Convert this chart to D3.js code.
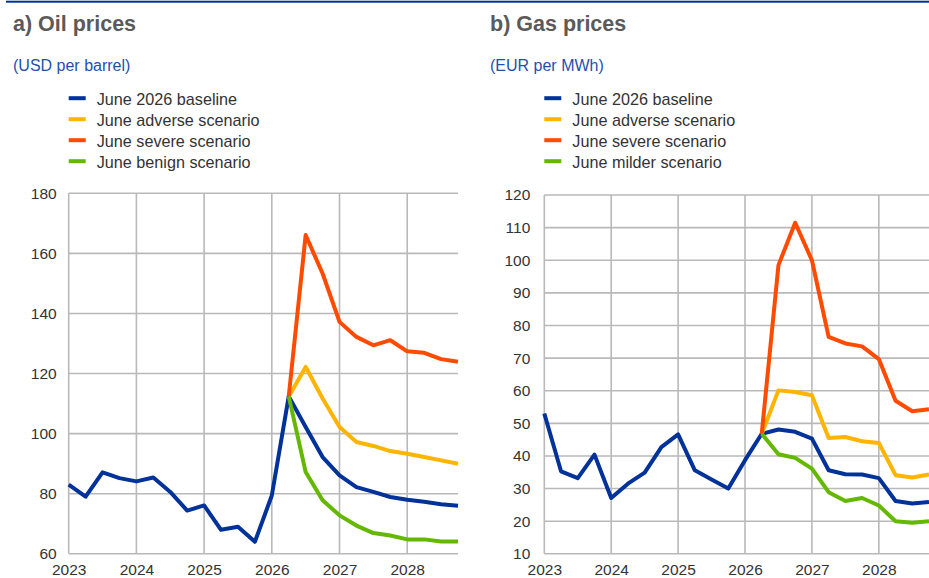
<!DOCTYPE html>
<html>
<head>
<meta charset="utf-8">
<script src="https://cdn.jsdelivr.net/npm/d3@7"></script>
<style>
  html, body { margin: 0; padding: 0; background: #fff; }
  svg { display: block; font-family: "Liberation Sans", Arial, sans-serif; }
</style>
</head>
<body>
<svg id="chart" width="929" height="578"></svg>
<script>
// ---------- DATA ----------
const quarters = ["2023Q1","2023Q2","2023Q3","2023Q4","2024Q1","2024Q2","2024Q3","2024Q4",
  "2025Q1","2025Q2","2025Q3","2025Q4","2026Q1","2026Q2","2026Q3","2026Q4",
  "2027Q1","2027Q2","2027Q3","2027Q4","2028Q1","2028Q2","2028Q3","2028Q4"];
const scenarioQuarters = quarters.slice(13); // 2026Q2 .. 2028Q4
const yearTicks = [2023, 2024, 2025, 2026, 2027, 2028];

// Oil prices (USD per barrel)
const oilTicks = [60, 80, 100, 120, 140, 160, 180];
const oilBaseline = [83, 79, 87.1, 85.2, 84.1, 85.4, 80.6, 74.4, 76.1, 68.0, 69.0, 64.0,
  79.4, 112.4, 102.2, 92.2, 86.1, 82.2, 80.6, 78.9, 78.0, 77.3, 76.5, 76.0];
const oilAdverse = [112.4, 122.2, 111.7, 102.2, 97.2, 95.9, 94.2, 93.3, 92.2, 91.1, 90.0];
const oilSevere  = [112.4, 166.1, 153.3, 137.2, 132.2, 129.4, 131.1, 127.4, 126.9, 124.8, 123.9];
const oilBenign  = [112.4, 87.2, 77.8, 72.8, 69.4, 66.9, 66.1, 64.8, 64.8, 64.1, 64.1];

// Gas prices (EUR per MWh)
const gasTicks = [10, 20, 30, 40, 50, 60, 70, 80, 90, 100, 110, 120];
const gasBaseline = [53.0, 35.3, 33.2, 40.4, 27.1, 31.5, 34.9, 42.7, 46.6, 35.6, 32.8, 30.0,
  38.7, 46.8, 48.1, 47.4, 45.3, 35.6, 34.4, 34.3, 33.2, 26.2, 25.4, 25.9];
const gasAdverse = [46.8, 60.1, 59.6, 58.6, 45.5, 45.8, 44.5, 44.0, 34.1, 33.4, 34.3];
const gasSevere  = [46.8, 98.5, 111.5, 100.0, 76.5, 74.5, 73.6, 69.7, 56.9, 53.7, 54.3];
const gasMilder  = [46.8, 40.5, 39.4, 36.1, 28.9, 26.2, 27.1, 24.8, 20.0, 19.5, 20.0];

const oilLegend = ["June 2026 baseline", "June adverse scenario", "June severe scenario", "June benign scenario"];
const gasLegend = ["June 2026 baseline", "June adverse scenario", "June severe scenario", "June milder scenario"];
const colors = ["#003299", "#ffb400", "#ff4b00", "#65b800"];

// ---------- HELPERS ----------
const qToNum = q => +q.slice(0, 4) + (+q.slice(5) - 1) / 4;

const svg = d3.select("#chart");

// top rule
svg.append("rect").attr("x", 6).attr("y", 0.7).attr("width", 929 - 6).attr("height", 2).attr("fill", "#003299");

function panel(cfg) {
  const g = svg.append("g");
  g.append("text").attr("x", cfg.titleX).attr("y", 31)
    .attr("font-size", 21.5).attr("font-weight", "bold").attr("fill", "#5a5a5a").text(cfg.title);
  g.append("text").attr("x", cfg.titleX).attr("y", 71)
    .attr("font-size", 16).attr("fill", "#1f4fb0").text(cfg.unit);

  // legend
  const lg = g.append("g");
  cfg.legend.forEach((name, i) => {
    const by = 104.7 + i * 21;
    lg.append("rect").attr("x", cfg.x0).attr("y", by - 8.5).attr("width", 17).attr("height", 4)
      .attr("fill", colors[i]);
    lg.append("text").attr("x", cfg.x0 + 28).attr("y", by).attr("font-size", 16.2)
      .attr("fill", "#333").text(name);
  });

  const x = d3.scaleLinear().domain([2023, 2028.75]).range([cfg.x0, cfg.x1]);
  const y = d3.scaleLinear().domain(cfg.yDomain).range([cfg.yBottom, cfg.yTop]);

  const grid = g.append("g").attr("stroke", "#b9b9b9").attr("stroke-width", 1.6);
  cfg.yTicks.forEach(t => {
    grid.append("line").attr("x1", x(2023)).attr("x2", cfg.x1).attr("y1", y(t)).attr("y2", y(t));
  });
  yearTicks.forEach(t => {
    grid.append("line").attr("x1", x(t)).attr("x2", x(t)).attr("y1", y(cfg.yDomain[0])).attr("y2", y(cfg.yDomain[1]));
  });

  // axes labels via d3 axes
  const yAxis = d3.axisLeft(y).tickValues(cfg.yTicks).tickSize(0).tickPadding(cfg.yPad);
  const ya = g.append("g").attr("transform", `translate(${x(2023)},0)`).call(yAxis);
  ya.select(".domain").remove();
  ya.selectAll("text").attr("font-size", 15.5).attr("fill", "#333").attr("font-family", null);

  const xAxis = d3.axisBottom(x).tickValues(yearTicks).tickFormat(d3.format("d")).tickSize(0).tickPadding(10.5);
  const xa = g.append("g").attr("transform", `translate(0,${y(cfg.yDomain[0])})`).call(xAxis);
  xa.select(".domain").remove();
  xa.selectAll("text").attr("font-size", 15.5).attr("fill", "#333").attr("font-family", null);

  const line = d3.line().x(d => x(d.t)).y(d => y(d.v));
  const series = [
    quarters.map((q, i) => ({ t: qToNum(q), v: cfg.baseline[i] })),
    scenarioQuarters.map((q, i) => ({ t: qToNum(q), v: cfg.adverse[i] })),
    scenarioQuarters.map((q, i) => ({ t: qToNum(q), v: cfg.severe[i] })),
    scenarioQuarters.map((q, i) => ({ t: qToNum(q), v: cfg.benign[i] }))
  ];
  g.append("g").selectAll("path").data(series).join("path")
    .attr("d", line).attr("fill", "none")
    .attr("stroke", (d, i) => colors[i]).attr("stroke-width", 4)
    .attr("stroke-linejoin", "round");
}

panel({
  title: "a) Oil prices", unit: "(USD per barrel)", titleX: 13, legend: oilLegend,
  x0: 68.7, x1: 458, yDomain: [60, 180], yTop: 193.3, yBottom: 553.8, yTicks: oilTicks, yPad: 12,
  baseline: oilBaseline, adverse: oilAdverse, severe: oilSevere, benign: oilBenign
});
panel({
  title: "b) Gas prices", unit: "(EUR per MWh)", titleX: 490, legend: gasLegend,
  x0: 544.3, x1: 929, yDomain: [10, 120], yTop: 195, yBottom: 553.8, yTicks: gasTicks, yPad: 14,
  baseline: gasBaseline, adverse: gasAdverse, severe: gasSevere, benign: gasMilder
});
</script>
</body>
</html>
